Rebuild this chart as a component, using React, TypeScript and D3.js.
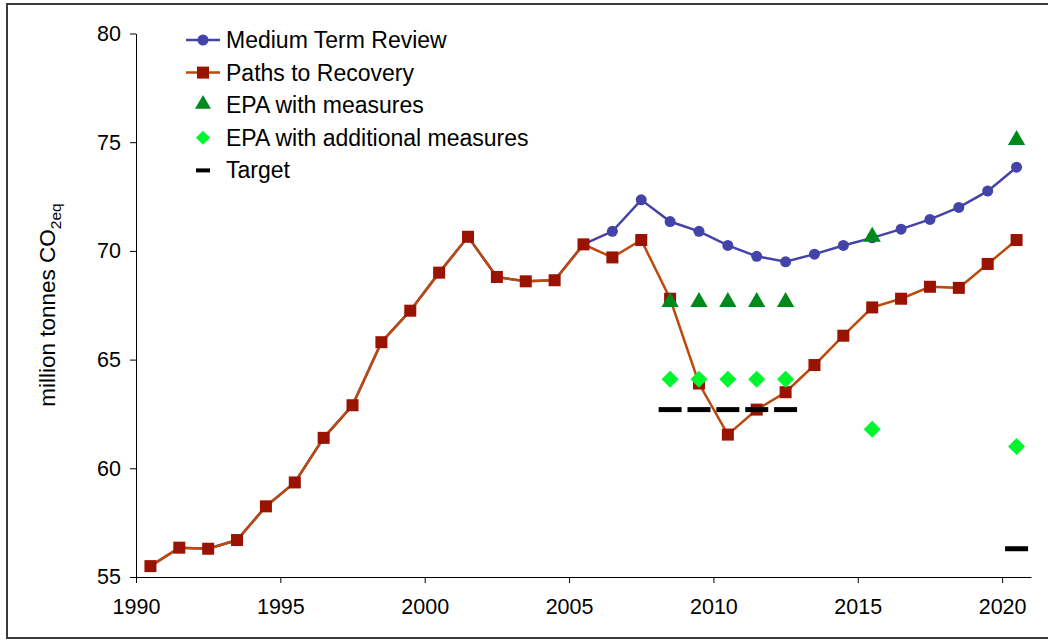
import React, { useEffect, useRef } from 'react';
import * as d3 from 'd3';

const years = d3.range(1990, 2021);
// Paths to Recovery (historic + projection)
const pathsToRecovery = [
  55.5, 56.35, 56.3, 56.7, 58.25, 59.35, 61.4, 62.9, 65.8, 67.25,
  69.0, 70.65, 68.8, 68.6, 68.65, 70.3, 69.7, 70.5, 67.8, 63.9,
  61.55, 62.7, 63.5, 64.75, 66.1, 67.4, 67.8, 68.35, 68.3, 69.4, 70.5,
];
// Medium Term Review diverges from 2006 on
const mediumTermReview = [
  55.5, 56.35, 56.3, 56.7, 58.25, 59.35, 61.4, 62.9, 65.8, 67.25,
  69.0, 70.65, 68.8, 68.6, 68.65, 70.3, 70.9, 72.35, 71.35, 70.9,
  70.25, 69.75, 69.5, 69.85, 70.25, 70.6, 71.0, 71.45, 72.0, 72.75, 73.85,
];
const epaYears = [2008, 2009, 2010, 2011, 2012, 2015, 2020];
const epaWithMeasures = [67.6, 67.6, 67.6, 67.6, 67.6, 70.6, 75.05];
const epaAdditional = [64.1, 64.1, 64.1, 64.1, 64.1, 61.8, 61.0];
const targetYears = [2008, 2009, 2010, 2011, 2012, 2020];
const targetValues = [62.7, 62.7, 62.7, 62.7, 62.7, 56.3];
const yTicks = [55, 60, 65, 70, 75, 80];
const xTicks = [1990, 1995, 2000, 2005, 2010, 2015, 2020];

const BLUE = '#4343a8';
const ORANGE = '#bc4a0c';
const DARKRED = '#9a1300';
const GREEN = '#008a1c';
const LIME = '#00f52e';

const App: React.FC = () => {
  const svgRef = useRef() as React.MutableRefObject<SVGSVGElement>;

  useEffect(() => {
    const svg = d3.select(svgRef.current);
    svg.html('');
    const font = 'Liberation Sans, Arial, sans-serif';

    // outer frame
    svg.append('rect')
      .attr('x', 7).attr('y', 4)
      .attr('width', 1100).attr('height', 634)
      .attr('fill', 'white')
      .attr('stroke', '#3a3a3a').attr('stroke-width', 2);

    const x = d3.scaleLinear().domain([1990, 2021]).range([136, 1031]);
    const y = d3.scaleLinear().domain([55, 80]).range([577, 33.5]);
    const px = (yr: number) => x(yr + 0.5);

    // axes
    const yAxis = svg.append('g').attr('transform', `translate(${x(1990)},0)`)
      .call(d3.axisLeft(y).tickValues(yTicks).tickSize(6).tickSizeOuter(0).tickPadding(9));
    const xAxis = svg.append('g').attr('transform', `translate(0,${y(55)})`)
      .call(d3.axisBottom(x).tickValues(xTicks).tickFormat(d3.format('d'))
        .tickSize(6).tickSizeOuter(0).tickPadding(12));
    [yAxis, xAxis].forEach(a => {
      a.select('.domain').attr('stroke', '#000').attr('stroke-width', 1);
      a.selectAll('line').attr('stroke', '#000');
      a.selectAll('text')
        .attr('font-family', font).attr('font-size', 21.5).attr('fill', '#000');
    });
    xAxis.selectAll('text').attr('dy', '0.9em');

    // y label
    const lab = svg.append('text')
      .attr('transform', `translate(55,305) rotate(-90)`)
      .attr('text-anchor', 'middle')
      .attr('font-family', font).attr('font-size', 22.5).attr('fill', '#000');
    lab.append('tspan').text('million tonnes CO');
    lab.append('tspan').attr('font-size', 15.5).attr('dy', 6).text('2eq');

    const line = d3.line<number>()
      .x((_, i) => px(years[i]))
      .y(d => y(d));

    // Medium Term Review
    svg.append('path').datum(mediumTermReview)
      .attr('fill', 'none').attr('stroke', BLUE).attr('stroke-width', 2.5)
      .attr('d', line);
    svg.append('g').selectAll('circle').data(mediumTermReview).join('circle')
      .attr('cx', (_, i) => px(years[i])).attr('cy', d => y(d))
      .attr('r', 5.5).attr('fill', BLUE);

    // Paths to Recovery
    svg.append('path').datum(pathsToRecovery)
      .attr('fill', 'none').attr('stroke', ORANGE).attr('stroke-width', 2.5)
      .attr('d', line);
    svg.append('g').selectAll('rect').data(pathsToRecovery).join('rect')
      .attr('x', (_, i) => px(years[i]) - 6).attr('y', d => y(d) - 6)
      .attr('width', 12).attr('height', 12).attr('fill', DARKRED);

    const tri = d3.symbol().type(d3.symbolTriangle).size(130);
    const dia = d3.symbol().type(d3.symbolSquare).size(145);

    // EPA with measures
    svg.append('g').selectAll('path').data(epaWithMeasures).join('path')
      .attr('transform', (d, i) => `translate(${px(epaYears[i])},${y(d) - 1})`)
      .attr('d', tri).attr('fill', GREEN);

    // EPA with additional measures
    svg.append('g').selectAll('path').data(epaAdditional).join('path')
      .attr('transform', (d, i) => `translate(${px(epaYears[i])},${y(d)}) rotate(45)`)
      .attr('d', dia).attr('fill', LIME);

    // Target
    svg.append('g').selectAll('rect').data(targetValues).join('rect')
      .attr('x', (_, i) => px(targetYears[i]) - 11.5).attr('y', d => y(d) - 2.5)
      .attr('width', 23).attr('height', 5).attr('fill', '#000');

    // legend
    const legend = svg.append('g').attr('transform', 'translate(186,40)');
    const items = ['Medium Term Review', 'Paths to Recovery', 'EPA with measures',
      'EPA with additional measures', 'Target'];
    items.forEach((name, i) => {
      const g = legend.append('g').attr('transform', `translate(0,${i * 32.6})`);
      const cx = 17;
      if (i === 0) {
        g.append('line').attr('x1', 0).attr('x2', 34).attr('stroke', BLUE).attr('stroke-width', 2.5);
        g.append('circle').attr('cx', cx).attr('r', 5.5).attr('fill', BLUE);
      } else if (i === 1) {
        g.append('line').attr('x1', 0).attr('x2', 34).attr('stroke', ORANGE).attr('stroke-width', 2.5);
        g.append('rect').attr('x', cx - 6).attr('y', -6).attr('width', 12).attr('height', 12).attr('fill', DARKRED);
      } else if (i === 2) {
        g.append('path').attr('transform', `translate(${cx},-1)`)
          .attr('d', d3.symbol().type(d3.symbolTriangle).size(110)).attr('fill', GREEN);
      } else if (i === 3) {
        g.append('path').attr('transform', `translate(${cx},0) rotate(45)`)
          .attr('d', d3.symbol().type(d3.symbolSquare).size(100)).attr('fill', LIME);
      } else {
        g.append('rect').attr('x', cx - 7).attr('y', -2).attr('width', 14).attr('height', 4).attr('fill', '#000');
      }
      g.append('text').attr('x', 40).attr('dy', '0.35em')
        .attr('font-family', font).attr('font-size', 23).attr('fill', '#000')
        .text(name);
    });
  }, []);

  return (
    <svg ref={svgRef} width={1048} height={640}
      style={{ position: 'absolute', left: 0, top: 0, background: '#fff' }} />
  );
};

export default App;
